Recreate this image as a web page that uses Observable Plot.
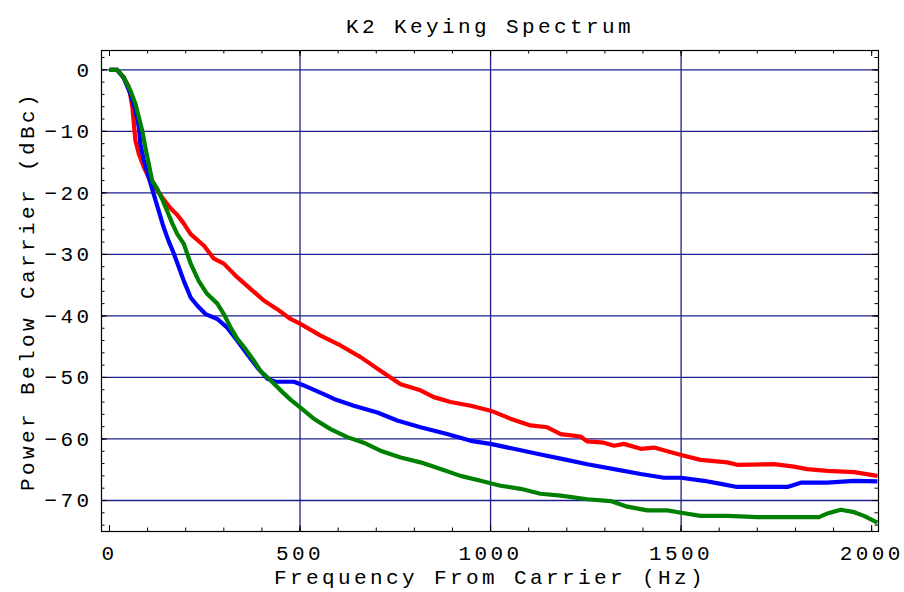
<!DOCTYPE html>
<html>
<head>
<meta charset="utf-8">
<script src="https://cdn.jsdelivr.net/npm/d3@7"></script>
<script src="https://cdn.jsdelivr.net/npm/@observablehq/plot@0.6"></script>
<style>
  html, body { margin: 0; padding: 0; background: #fff; }
  #chart svg { display: block; }
</style>
</head>
<body>
<div id="chart"></div>
<script>
const title = "K2 Keying Spectrum";
const xLabel = "Frequency From Carrier (Hz)";
const yLabel = "Power Below Carrier (dBc)";

const xTicks = [0, 500, 1000, 1500, 2000];
const xGrid = [500, 1000, 1500];
const xMinorTicks = d3.range(0, 2001, 100);
const yTicks = [0, -10, -20, -30, -40, -50, -60, -70];
const yMinorTicks = d3.range(-74, 3, 2);

const redFreq = [0, 20, 37, 51, 60, 64, 68, 77, 90, 103, 116, 138, 160, 178, 195, 213, 248, 274, 300, 335, 370, 405, 440, 475, 501, 554, 606, 659, 711, 764, 816, 851, 895, 948, 1000, 1052, 1105, 1149, 1184, 1236, 1254, 1297, 1324, 1350, 1394, 1429, 1464, 1500, 1551, 1621, 1647, 1744, 1796, 1831, 1884, 1954, 2015];
const redDb = [0, 0, -1.2, -2.8, -6.1, -8.8, -11.5, -13.7, -15.8, -17.5, -18.8, -20.7, -22.5, -23.6, -25, -26.7, -28.6, -30.7, -31.5, -33.7, -35.6, -37.5, -38.9, -40.5, -41.3, -43.2, -44.8, -46.7, -48.9, -51.1, -52.1, -53.2, -54, -54.6, -55.4, -56.7, -57.8, -58.1, -59.2, -59.6, -60.4, -60.6, -61.1, -60.8, -61.6, -61.4, -62, -62.6, -63.4, -63.8, -64.2, -64.1, -64.5, -64.9, -65.2, -65.4, -66];

const blueFreq = [0, 20, 37, 55, 68, 77, 81, 90, 103, 116, 129, 142, 155, 169, 182, 195, 213, 230, 252, 283, 309, 335, 361, 388, 414, 436, 484, 510, 562, 589, 641, 703, 755, 816, 886, 948, 1000, 1061, 1122, 1184, 1254, 1324, 1394, 1455, 1500, 1560, 1604, 1647, 1709, 1779, 1814, 1884, 1954, 2015];
const blueDb = [0, 0, -1.3, -3.9, -6.6, -9.3, -12, -14.7, -17.5, -20.2, -22.9, -25.6, -27.8, -29.9, -32.1, -34.3, -37, -38.3, -39.7, -40.5, -41.9, -44, -46.2, -48.4, -50.2, -50.7, -50.7, -51.3, -52.7, -53.5, -54.6, -55.7, -57, -58.1, -59.2, -60.3, -60.8, -61.6, -62.4, -63.2, -64.1, -64.9, -65.7, -66.3, -66.3, -66.8, -67.3, -67.8, -67.8, -67.8, -67.1, -67.1, -66.8, -66.9];

const greenFreq = [0, 20, 37, 55, 68, 77, 86, 94, 103, 112, 125, 138, 151, 165, 178, 195, 213, 234, 256, 283, 300, 318, 335, 357, 379, 396, 423, 449, 475, 501, 536, 580, 624, 667, 711, 764, 816, 869, 921, 974, 1026, 1079, 1131, 1184, 1254, 1315, 1359, 1411, 1464, 1500, 1551, 1621, 1700, 1795, 1862, 1884, 1919, 1954, 1980, 2015];
const greenDb = [0, 0, -1.2, -3.4, -5.5, -7.7, -9.9, -12.6, -15.3, -18, -19.3, -21, -22.9, -25, -26.7, -28.3, -31.5, -34.3, -36.4, -38, -39.7, -41.9, -43.7, -45.4, -47.3, -48.9, -50.5, -52.1, -53.6, -54.9, -56.7, -58.4, -59.7, -60.6, -61.9, -63, -63.8, -64.9, -66, -66.8, -67.6, -68.1, -68.9, -69.2, -69.8, -70.1, -71, -71.6, -71.6, -72, -72.5, -72.5, -72.7, -72.7, -72.7, -72.1, -71.5, -71.9, -72.5, -73.6];

const seriesNames = ["red", "blue", "green"];
const seriesColors = ["#ff0000", "#0000ff", "#006400"];

const rows = [];
[[redFreq, redDb], [blueFreq, blueDb], [greenFreq, greenDb]].forEach(([fx, fy], i) => {
  fx.forEach((f, j) => rows.push({series: seriesNames[i], freq: f, db: fy[j]}));
});

const W = 904, H = 592;
const mTop = 50, mRight = 26, mBottom = 61, mLeft = 101;
const plotW = W - mLeft - mRight, plotH = H - mTop - mBottom;
const majorLen = 6, minorLen = 3.5;
const gridColor = "#1f1f8f";
const ls = 3.4;
const numFmt = d => d3.format("d")(d).replace("-", "\u2212");

const chart = Plot.plot({
  width: W,
  height: H,
  marginTop: mTop,
  marginRight: mRight,
  marginBottom: mBottom,
  marginLeft: mLeft,
  style: {fontFamily: "'Liberation Mono', monospace", fontSize: "21px", letterSpacing: ls + "px", color: "#000", background: "#fff", overflow: "visible"},
  x: {domain: [-21, 2018]},
  y: {domain: [-75.04, 3.14]},
  color: {domain: seriesNames, range: seriesColors},
  marks: [
    Plot.gridX(xGrid, {stroke: gridColor, strokeOpacity: 1, strokeWidth: 1.3}),
    Plot.gridY(yTicks, {stroke: gridColor, strokeOpacity: 1, strokeWidth: 1.3}),
    Plot.tickX(xMinorTicks, {x: d => d, stroke: "#000", strokeWidth: 1, insetTop: plotH - minorLen}),
    Plot.tickX(xMinorTicks, {x: d => d, stroke: "#000", strokeWidth: 1, insetBottom: plotH - minorLen}),
    Plot.tickX(xTicks, {x: d => d, stroke: "#000", strokeWidth: 1, insetTop: plotH - majorLen}),
    Plot.tickX(xTicks, {x: d => d, stroke: "#000", strokeWidth: 1, insetBottom: plotH - majorLen}),
    Plot.tickY(yMinorTicks, {y: d => d, stroke: "#000", strokeWidth: 1, insetRight: plotW - minorLen}),
    Plot.tickY(yMinorTicks, {y: d => d, stroke: "#000", strokeWidth: 1, insetLeft: plotW - minorLen}),
    Plot.tickY(yTicks, {y: d => d, stroke: "#000", strokeWidth: 1, insetRight: plotW - majorLen}),
    Plot.tickY(yTicks, {y: d => d, stroke: "#000", strokeWidth: 1, insetLeft: plotW - majorLen}),
    Plot.line(rows, {x: "freq", y: "db", z: "series", stroke: "series", strokeWidth: 4.2, strokeLinejoin: "round", strokeLinecap: "butt"}),
    Plot.frame({stroke: "#000", strokeWidth: 1.2}),
    Plot.axisX(xTicks, {anchor: "bottom", tickSize: 0, tickPadding: 14, tickFormat: numFmt, label: null}),
    Plot.axisY(yTicks, {anchor: "left", tickSize: 0, tickPadding: 9, tickFormat: numFmt, label: null}),
    Plot.text([title], {text: d => d, frameAnchor: "top", dy: -18, lineAnchor: "bottom", textAnchor: "middle"}),
    Plot.text([xLabel], {text: d => d, frameAnchor: "bottom", dy: 52, lineAnchor: "bottom", textAnchor: "middle"}),
    Plot.text([yLabel], {text: d => d, frameAnchor: "left", dx: -68, rotate: -90, lineAnchor: "bottom", textAnchor: "middle"})
  ]
});
document.getElementById("chart").appendChild(chart);
</script>
</body>
</html>
